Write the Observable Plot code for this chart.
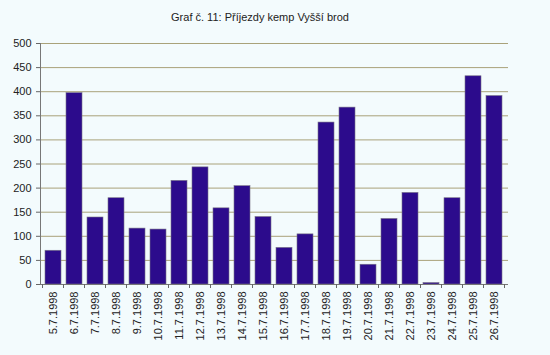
<!DOCTYPE html>
<html>
<head>
<meta charset="utf-8">
<script src="https://cdn.jsdelivr.net/npm/d3@7"></script>
<script src="https://cdn.jsdelivr.net/npm/@observablehq/plot@0.6"></script>
<style>
  html, body { margin: 0; padding: 0; background: #f3fbfd; }
  body { width: 550px; height: 355px; overflow: hidden; font-family: "Liberation Sans", Arial, sans-serif; }
  #title { height: 30px; line-height: 34px; font-size: 11px; color: #222; padding-left: 0; width: 520px; text-align: center; }
  svg { display: block; }
</style>
</head>
<body>
<div id="title">Graf č. 11: Příjezdy kemp Vyšší brod</div>
<div id="chart"></div>
<script>
const dates = ["5.7.1998","6.7.1998","7.7.1998","8.7.1998","9.7.1998","10.7.1998","11.7.1998","12.7.1998","13.7.1998","14.7.1998","15.7.1998","16.7.1998","17.7.1998","18.7.1998","19.7.1998","20.7.1998","21.7.1998","22.7.1998","23.7.1998","24.7.1998","25.7.1998","26.7.1998"];
const arrivals = [70,397,139,179,116,114,215,243,158,204,140,76,104,336,367,41,136,190,3,179,432,391];
const yTicks = [0,50,100,150,200,250,300,350,400,450,500];

const data = dates.map((d, i) => ({date: d, value: arrivals[i]}));

const plot = Plot.plot({
  width: 550,
  height: 325,
  marginTop: 13,
  marginBottom: 71,
  marginLeft: 40,
  marginRight: 42,
  style: {background: "transparent", fontFamily: "'Liberation Sans', Arial, sans-serif", fontSize: "11px", color: "#222"},
  x: {domain: dates, padding: 0.23, label: null},
  y: {domain: [0, 500], ticks: yTicks, label: null},
  marks: [
    Plot.ruleY(yTicks.filter(t => t > 0), {stroke: "#a9a27a", strokeWidth: 1, strokeOpacity: 1}),
    Plot.barY(data, {x: "date", y: "value", fill: "#2c0b8c", stroke: "#7a7488", strokeWidth: 0.6}),
    Plot.axisY({ticks: yTicks, tickSize: 4, tickPadding: 5, stroke: "#666", fontSize: 11, label: null}),
    Plot.axisX({tickSize: 0, tickRotate: -90, tickPadding: 7, fontSize: 11, label: null}),
    Plot.frame({anchor: "left", stroke: "#777"}),
    Plot.ruleY([0], {stroke: "#777"})
  ]
});

document.getElementById("chart").appendChild(plot);

// band-boundary tick marks below the baseline, positioned via the plot's x scale
const xs = plot.scale("x");
const ysc = plot.scale("y");
const bw = xs.bandwidth;
const step = xs.step;
const y0 = ysc.apply(0);
const svg = d3.select(plot);
const bounds = dates.map(d => xs.apply(d) - (step - bw) / 2);
bounds.push(xs.apply(dates[dates.length - 1]) + bw + (step - bw) / 2);
svg.append("g").selectAll("line").data(bounds).join("line")
  .attr("x1", d => d).attr("x2", d => d)
  .attr("y1", y0).attr("y2", y0 + 4)
  .attr("stroke", "#666");
</script>
</body>
</html>
